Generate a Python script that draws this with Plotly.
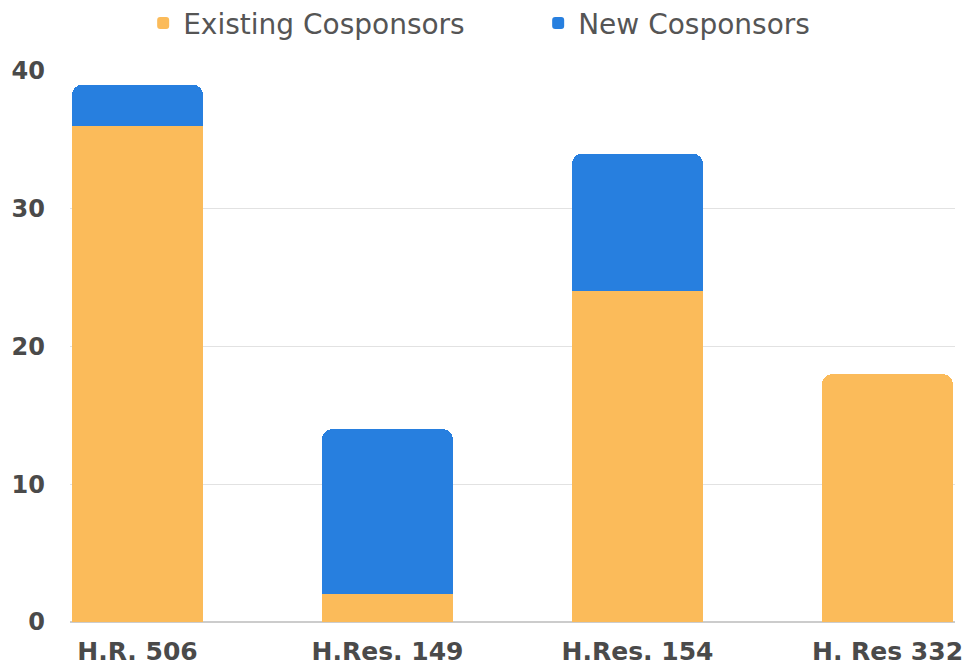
import plotly.graph_objects as go

categories = ["H.R. 506", "H.Res. 149", "H.Res. 154", "H. Res 332"]
existing = [36, 2, 24, 18]
new = [3, 12, 10, 0]
y_ticks = [0, 10, 20, 30, 40]

fig = go.Figure()
fig.add_trace(go.Bar(x=categories, y=existing, name="Existing Cosponsors",
                     marker=dict(color="#FBBB5A", line=dict(width=0))))
fig.add_trace(go.Bar(x=categories, y=new, name="New Cosponsors",
                     marker=dict(color="#277FDF", line=dict(width=0))))

fig.update_layout(
    width=978, height=666,
    barmode="stack", bargap=0.476, barcornerradius=10,
    plot_bgcolor="white", paper_bgcolor="white",
    margin=dict(l=62, r=31, t=63, b=52, autoexpand=False),
    font=dict(family="DejaVu Sans", color="#444444"),
    legend=dict(orientation="h", x=0.529, xanchor="center", y=0.977, yanchor="middle",
                yref="container", font=dict(size=28, color="#555555"),
                entrywidth=350, entrywidthmode="pixels",
                traceorder="normal"),
    showlegend=True,
)
fig.update_xaxes(range=[-0.27, 3.27], showgrid=False, showline=False, ticks="",
                 tickfont=dict(size=25, color="#4A4A4A", weight="bold"),
                 ticklabelstandoff=12)
fig.update_yaxes(range=[0, 40], tickvals=y_ticks, showgrid=True, gridcolor="#E2E2E2",
                 gridwidth=1, zeroline=True, zerolinecolor="#CCCCCC", zerolinewidth=2,
                 tickfont=dict(size=24, color="#4A4A4A", weight="bold"), ticks="",
                 ticklabelstandoff=24)
fig.write_html("out.html")
